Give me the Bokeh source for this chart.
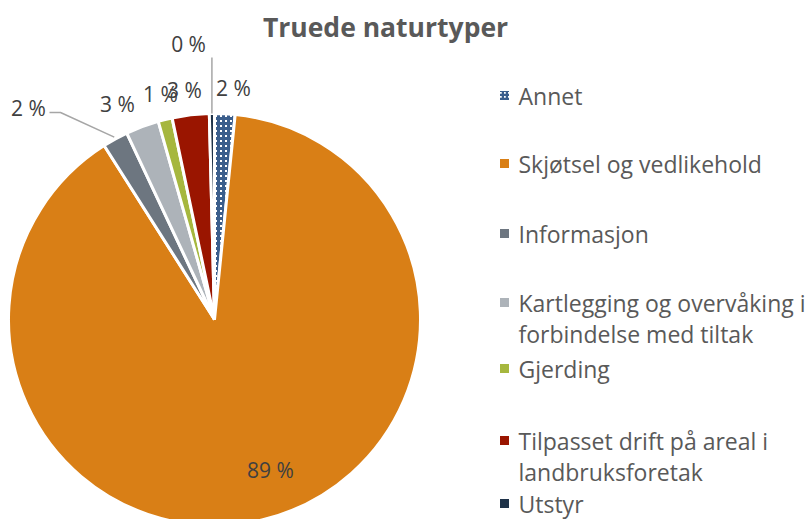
import numpy as np
from bokeh.plotting import figure
from bokeh.models import Range1d
from bokeh.core.properties import value
from bokeh.embed import file_html
from bokeh.resources import INLINE

# ---- data ----
title_text = "Truede naturtyper"
categories = ["Annet", "Skjøtsel og vedlikehold", "Informasjon",
              "Kartlegging og overvåking i forbindelse med tiltak", "Gjerding",
              "Tilpasset drift på areal i landbruksforetak", "Utstyr"]
values = [1.6, 89.4, 2.0, 2.6, 1.1, 2.9, 0.4]
pct_labels = ["2 %", "89 %", "2 %", "3 %", "1 %", "3 %", "0 %"]
legend_lines = [["Annet"], ["Skjøtsel og vedlikehold"], ["Informasjon"],
                ["Kartlegging og overvåking i", "forbindelse med tiltak"], ["Gjerding"],
                ["Tilpasset drift på areal i", "landbruksforetak"], ["Utstyr"]]

# ---- styles / layout ----
colors = ["#FFFFFF", "#D97F16", "#6D7680", "#ADB3B9", "#A6B73E", "#9A1500", "#1F3349"]
hatch = ["+", None, None, None, None, None, None]
hatch_color = "#3B5E8C"
# label positions (data units, pie radius = 1)
label_pos = [(0.092, 1.126), (0.272, -0.733), (-0.903, 1.029), (-0.471, 1.044),
             (-0.262, 1.097), (-0.146, 1.112), (-0.126, 1.335)]
legend_y_px = [95, 163, 233, 302, 368, 440, 503]
line_gap_px = 31

PX = 206.0  # pixels per unit
CX, CY = 214.0, 319.0  # pie centre in image px
W, H = 811, 519

def dx(px):
    return (px - CX) / PX

def dy(py):
    return (CY - py) / PX

p = figure(width=W, height=H, output_backend="svg", toolbar_location=None,
           x_range=Range1d(dx(0), dx(W)), y_range=Range1d(dy(H), dy(0)),
           min_border=0)
p.axis.visible = False
p.grid.visible = False
p.outline_line_color = None
p.background_fill_color = "white"
p.border_fill_color = "white"

vals = np.array(values, dtype=float)
frac = vals / vals.sum()
cum = np.concatenate([[0], np.cumsum(frac)])
start = np.pi / 2 - cum[:-1] * 2 * np.pi
end = np.pi / 2 - cum[1:] * 2 * np.pi
mid = (cum[:-1] + cum[1:]) / 2 * 2 * np.pi  # clockwise from top

for i in range(len(values)):
    kw = dict(x=0, y=0, radius=1.0, start_angle=start[i], end_angle=end[i],
              direction="clock", fill_color=colors[i], line_color="white", line_width=3)
    if hatch[i]:
        kw.update(hatch_pattern=hatch[i], hatch_color=hatch_color, hatch_scale=5,
                  hatch_weight=3)
    p.wedge(**kw)

# leader lines
iu = 6
ux = np.sin(mid[iu])
p.line([ux, ux], [np.cos(mid[iu]) * 1.0, dy(57)], line_color="#A6A6A6", line_width=1.5)
ii = 2
p.line([np.sin(mid[ii]) * 1.01, dx(60), dx(49)],
       [np.cos(mid[ii]) * 1.01, dy(112), dy(112)], line_color="#A6A6A6", line_width=1.5)

# data labels
p.text(x=[a for a, b in label_pos], y=[b for a, b in label_pos], text=pct_labels,
       text_align="center", text_baseline="middle", text_color="#404040",
       text_font=value("Open Sans"), text_font_size="21px")

# title
p.text(x=[dx(385)], y=[dy(26)], text=[title_text], text_align="center",
       text_baseline="middle", text_color="#595959", text_font=value("Open Sans"),
       text_font_size="26.5px", text_font_style="bold")

# legend
for i, lines in enumerate(legend_lines):
    yy = legend_y_px[i]
    kw = dict(x=dx(504), y=dy(yy), width=9 / PX, height=9 / PX,
              fill_color=colors[i] if i else "white", line_color=None)
    if hatch[i]:
        kw.update(hatch_pattern=hatch[i], hatch_color=hatch_color, hatch_scale=4,
                  hatch_weight=2.5)
    p.rect(**kw)
    for j, t in enumerate(lines):
        p.text(x=[dx(518)], y=[dy(yy + j * line_gap_px)], text=[t], text_align="left",
               text_baseline="middle", text_color="#595959",
               text_font=value("Open Sans"), text_font_size="23px")

open("out.html", "w").write(file_html(p, INLINE))
